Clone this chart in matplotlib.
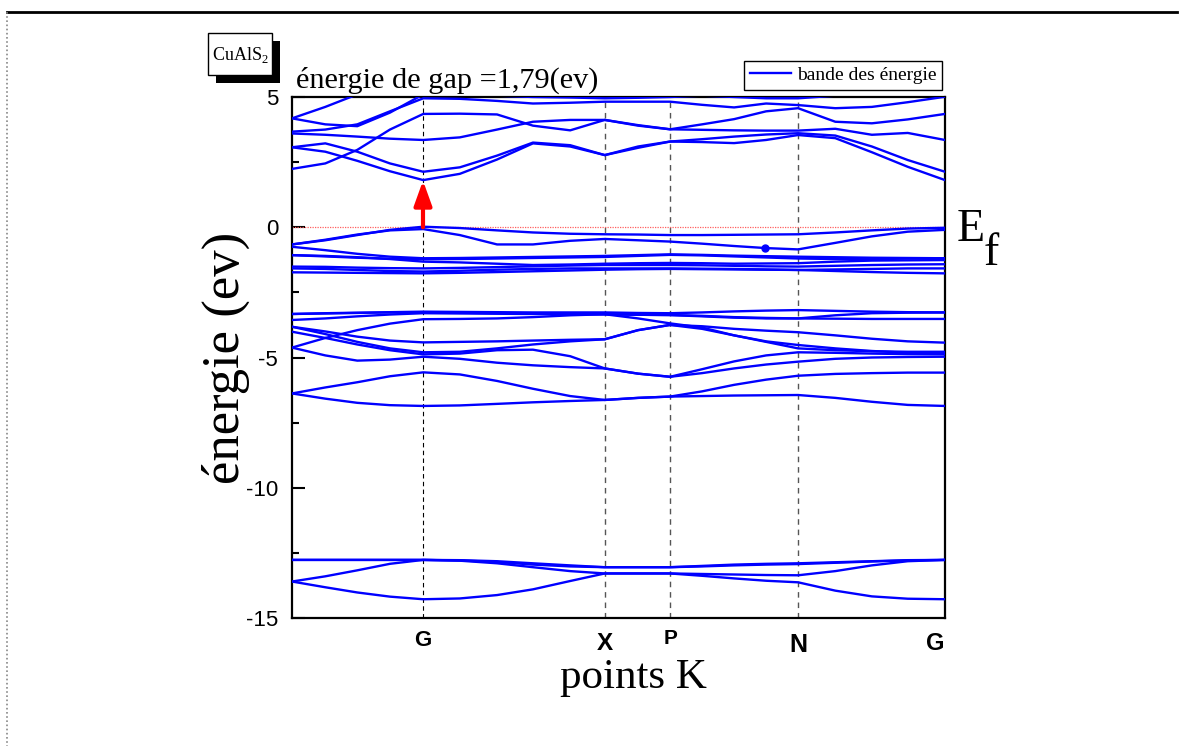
import matplotlib
matplotlib.use('Agg')
import matplotlib.pyplot as plt
import matplotlib.transforms as mtransforms
from matplotlib.patches import Rectangle
from matplotlib.lines import Line2D

# ---------------- data ----------------
k_nodes = [0.000, 0.051, 0.100, 0.150, 0.201, 0.257, 0.314, 0.369, 0.426, 0.479,
           0.530, 0.579, 0.628, 0.677, 0.726, 0.775, 0.832, 0.888, 0.943, 1.000]

k_sym_pos = [0.2006, 0.479, 0.579, 0.775, 0.985]
k_sym_labels = ['G', 'X', 'P', 'N', 'G']
k_sym_sizes = [16, 17.5, 15, 18, 17]
k_sym_ypix = [640, 643, 638, 645, 643]
k_lines = [0.2006, 0.479, 0.579, 0.775]

y_major = [-15, -10, -5, 0, 5]
y_minor = [-12.5, -7.5, -2.5, 2.5]

gap = 1.79
dot_k, dot_e = 0.724, -0.80

# low-lying bands
band_low = [
    [-12.77, -12.77, -12.77, -12.77, -12.77, -12.78, -12.82, -12.90, -12.98, -13.05,
     -13.05, -13.05, -13.00, -12.95, -12.92, -12.90, -12.86, -12.82, -12.78, -12.77],
    [-12.77, -12.77, -12.77, -12.77, -12.77, -12.79, -12.85, -12.95, -13.02, -13.05,
     -13.05, -13.05, -13.02, -12.98, -12.95, -12.93, -12.88, -12.83, -12.79, -12.77],
    [-13.60, -13.40, -13.17, -12.92, -12.77, -12.80, -12.90, -13.05, -13.20, -13.29,
     -13.29, -13.29, -13.31, -13.33, -13.35, -13.36, -13.20, -12.98, -12.82, -12.77],
    [-13.60, -13.82, -14.02, -14.18, -14.28, -14.25, -14.12, -13.90, -13.58, -13.29,
     -13.29, -13.29, -13.38, -13.48, -13.57, -13.63, -13.95, -14.17, -14.26, -14.28],
]

# middle valence bands
band_mid = [
    [-6.38, -6.58, -6.74, -6.83, -6.86, -6.84, -6.78, -6.72, -6.67, -6.63,
     -6.55, -6.50, -6.48, -6.46, -6.45, -6.44, -6.55, -6.70, -6.82, -6.86],
    [-6.38, -6.15, -5.95, -5.72, -5.57, -5.65, -5.90, -6.20, -6.48, -6.63,
     -6.55, -6.50, -6.30, -6.05, -5.85, -5.70, -5.63, -5.60, -5.58, -5.58],
    [-4.62, -4.92, -5.12, -5.08, -4.97, -5.05, -5.20, -5.30, -5.37, -5.42,
     -5.62, -5.74, -5.60, -5.42, -5.27, -5.16, -5.05, -5.00, -4.98, -4.97],
    [-4.01, -4.25, -4.50, -4.72, -4.88, -4.85, -4.72, -4.70, -4.95, -5.42,
     -5.62, -5.74, -5.45, -5.15, -4.92, -4.80, -4.82, -4.85, -4.87, -4.88],
    [-3.82, -4.10, -4.40, -4.65, -4.80, -4.78, -4.65, -4.50, -4.38, -4.30,
     -3.95, -3.75, -3.90, -4.15, -4.40, -4.65, -4.72, -4.76, -4.78, -4.78],
    [-4.62, -4.25, -3.95, -3.70, -3.53, -3.52, -3.50, -3.45, -3.38, -3.34,
     -3.36, -3.37, -3.42, -3.47, -3.50, -3.50, -3.51, -3.52, -3.52, -3.52],
    [-3.82, -4.00, -4.20, -4.35, -4.42, -4.40, -4.38, -4.35, -4.32, -4.30,
     -3.95, -3.75, -3.80, -3.90, -3.97, -4.03, -4.15, -4.28, -4.38, -4.43],
    [-3.56, -3.50, -3.42, -3.35, -3.30, -3.31, -3.32, -3.33, -3.34, -3.34,
     -3.50, -3.69, -3.85, -4.15, -4.38, -4.52, -4.65, -4.75, -4.82, -4.84],
    [-3.33, -3.31, -3.29, -3.26, -3.24, -3.25, -3.26, -3.27, -3.27, -3.27,
     -3.29, -3.30, -3.27, -3.23, -3.20, -3.18, -3.21, -3.24, -3.26, -3.27],
    [-3.33, -3.30, -3.28, -3.27, -3.26, -3.28, -3.30, -3.32, -3.33, -3.34,
     -3.36, -3.37, -3.40, -3.45, -3.48, -3.50, -3.38, -3.30, -3.28, -3.27],
]

# upper valence bands
band_top = [
    [-0.66, -0.50, -0.30, -0.10, 0.02, -0.03, -0.12, -0.20, -0.25, -0.27,
     -0.28, -0.30, -0.30, -0.29, -0.28, -0.27, -0.20, -0.12, -0.05, -0.02],
    [-0.66, -0.48, -0.28, -0.12, -0.07, -0.30, -0.66, -0.66, -0.52, -0.45,
     -0.50, -0.55, -0.63, -0.72, -0.80, -0.85, -0.60, -0.35, -0.17, -0.10],
    [-0.75, -0.88, -1.02, -1.13, -1.19, -1.18, -1.16, -1.14, -1.12, -1.10,
     -1.07, -1.04, -1.06, -1.09, -1.11, -1.13, -1.15, -1.17, -1.18, -1.19],
    [-1.07, -1.10, -1.15, -1.22, -1.32, -1.35, -1.40, -1.45, -1.43, -1.40,
     -1.38, -1.37, -1.38, -1.40, -1.39, -1.38, -1.32, -1.28, -1.27, -1.26],
    [-1.51, -1.52, -1.55, -1.57, -1.58, -1.56, -1.53, -1.50, -1.47, -1.45,
     -1.45, -1.45, -1.46, -1.48, -1.50, -1.51, -1.48, -1.45, -1.43, -1.42],
    [-1.58, -1.60, -1.64, -1.68, -1.70, -1.67, -1.63, -1.60, -1.58, -1.58,
     -1.58, -1.58, -1.59, -1.60, -1.62, -1.64, -1.62, -1.60, -1.58, -1.58],
    [-1.73, -1.74, -1.75, -1.76, -1.77, -1.75, -1.72, -1.69, -1.66, -1.63,
     -1.61, -1.60, -1.61, -1.62, -1.63, -1.64, -1.68, -1.72, -1.75, -1.77],
    [-1.07, -1.12, -1.17, -1.21, -1.23, -1.22, -1.20, -1.18, -1.16, -1.14,
     -1.10, -1.06, -1.08, -1.12, -1.16, -1.20, -1.22, -1.23, -1.20, -1.19],
]

# conduction bands
band_cond = [
    [3.07, 2.90, 2.55, 2.15, 1.81, 2.05, 2.60, 3.22, 3.10, 2.77,
     3.05, 3.29, 3.27, 3.23, 3.35, 3.54, 3.42, 2.88, 2.32, 1.81],
    [3.07, 3.22, 2.90, 2.45, 2.13, 2.30, 2.75, 3.25, 3.15, 2.77,
     3.10, 3.29, 3.38, 3.48, 3.56, 3.61, 3.52, 3.10, 2.58, 2.13],
    [3.60, 3.55, 3.48, 3.40, 3.35, 3.45, 3.75, 4.05, 4.12, 4.12,
     3.92, 3.76, 3.74, 3.72, 3.71, 3.71, 3.78, 3.55, 3.62, 3.35],
    [2.24, 2.45, 2.97, 3.75, 4.35, 4.36, 4.33, 3.90, 3.72, 4.12,
     3.90, 3.76, 3.95, 4.15, 4.45, 4.57, 4.05, 3.99, 4.14, 4.35],
    [3.67, 3.75, 3.95, 4.45, 4.95, 4.93, 4.85, 4.75, 4.78, 4.82,
     4.82, 4.82, 4.70, 4.60, 4.75, 4.69, 4.57, 4.62, 4.80, 5.01],
    [4.18, 3.95, 3.88, 4.40, 5.10, 5.10, 5.05, 5.00, 4.98, 4.95,
     4.97, 5.00, 5.05, 5.00, 4.95, 4.95, 5.05, 5.10, 5.10, 5.10],
    [4.18, 4.62, 5.10, 5.30, 5.40, 5.40, 5.40, 5.40, 5.40, 5.40,
     5.40, 5.40, 5.40, 5.40, 5.40, 5.40, 5.40, 5.40, 5.40, 5.40],
]

# ---------------- figure ----------------
W, H = 1184, 756
plt.rcParams['mathtext.fontset'] = 'custom'
plt.rcParams['mathtext.rm'] = 'Liberation Serif'
fig = plt.figure(figsize=(W / 100, H / 100), dpi=100)

def fx(px):
    return px / W

def fy(py):
    return 1 - py / H

# page frame
fig.add_artist(Line2D([fx(7), fx(1177)], [fy(12), fy(12)], color='black', lw=2.0))
fig.add_artist(Line2D([fx(7), fx(7)], [fy(12), fy(746)], color='#888888', lw=1.2, ls=(0, (1, 1.5))))

ax = fig.add_axes([fx(292), fy(618), (945 - 292) / W, (618 - 97) / H])
ax.set_xlim(0, 1)
ax.set_ylim(-15, 5)

blue = '#0000ff'
first = True
for group in (band_low, band_mid, band_top, band_cond):
    for b in group:
        ax.plot(k_nodes, b, color=blue, lw=1.7, solid_joinstyle='round',
                label='bande des énergie' if first else None, zorder=3)
        first = False

# high-symmetry lines
ax.axvline(k_lines[0], color='black', lw=0.8, ls=(0, (4, 3)), zorder=1)
for kk in k_lines[1:]:
    ax.axvline(kk, color='#555555', lw=1.0, ls=(0, (4, 3.5)), zorder=1)

# Fermi level
ax.axhline(0, color='#ff6060', lw=0.9, ls=(0, (1, 1)), zorder=2)

# gap arrow
ax.annotate('', xy=(k_lines[0], gap), xytext=(k_lines[0], 0),
            arrowprops=dict(arrowstyle='-|>,head_length=1.25,head_width=0.45',
                            mutation_scale=12, color='red', lw=3.0,
                            shrinkA=0, shrinkB=0), zorder=5)
ax.plot([dot_k], [dot_e], 'o', color=blue, ms=5, zorder=4)

# axes styling
for s in ax.spines.values():
    s.set_linewidth(1.6)
ax.set_xticks([])
ax.set_yticks(y_major)
ax.set_yticks(y_minor, minor=True)
ax.set_yticklabels([str(v) for v in y_major], fontfamily='Liberation Sans', fontsize=16)
ax.tick_params(axis='y', which='major', direction='in', length=9, width=1.5, pad=10)
ax.tick_params(axis='y', which='minor', direction='in', length=5, width=1.5)

blend = mtransforms.blended_transform_factory(ax.transData, fig.transFigure)
for pos, lab, sz, yp in zip(k_sym_pos, k_sym_labels, k_sym_sizes, k_sym_ypix):
    ax.text(pos, fy(yp), lab, transform=blend, ha='center', va='center',
            fontfamily='Liberation Sans', fontweight='bold', fontsize=sz)

fig.text(fx(633), fy(688), 'points K', ha='center', va='baseline',
         fontfamily='Liberation Serif', fontsize=31)
fig.text(fx(226), fy(358), 'énergie (ev)', ha='center', va='center', rotation=90,
         fontfamily='Liberation Serif', fontsize=38)

fig.text(fx(296), fy(88), 'énergie de gap =1,79(ev)', ha='left', va='baseline',
         fontfamily='Liberation Serif', fontsize=21.8)

# CuAlS2 box with shadow
fig.add_artist(Rectangle((fx(216), fy(83)), fx(280) - fx(216), fy(41) - fy(83),
                         facecolor='black', edgecolor='none', transform=fig.transFigure))
fig.add_artist(Rectangle((fx(208), fy(75)), fx(272) - fx(208), fy(33) - fy(75),
                         facecolor='white', edgecolor='black', lw=1, transform=fig.transFigure))
fig.text(fx(240), fy(55), r'CuAlS$_\mathrm{2}$', ha='center', va='center',
         fontfamily='Liberation Serif', fontsize=13)

# E_f
fig.text(fx(957), fy(241), 'E', ha='left', va='baseline', fontfamily='Liberation Serif', fontsize=33)
fig.text(fx(984), fy(265), 'f', ha='left', va='baseline', fontfamily='Liberation Serif', fontsize=33)

leg = ax.legend(loc='lower right', bbox_to_anchor=(fx(942), fy(90)), bbox_transform=fig.transFigure,
                prop={'family': 'Liberation Serif', 'size': 14}, frameon=True, fancybox=False,
                edgecolor='black', framealpha=1, borderpad=0.3, handlelength=2.1,
                handletextpad=0.3, borderaxespad=0)
leg.get_frame().set_linewidth(1.0)

fig.savefig('out.png', dpi=100)
